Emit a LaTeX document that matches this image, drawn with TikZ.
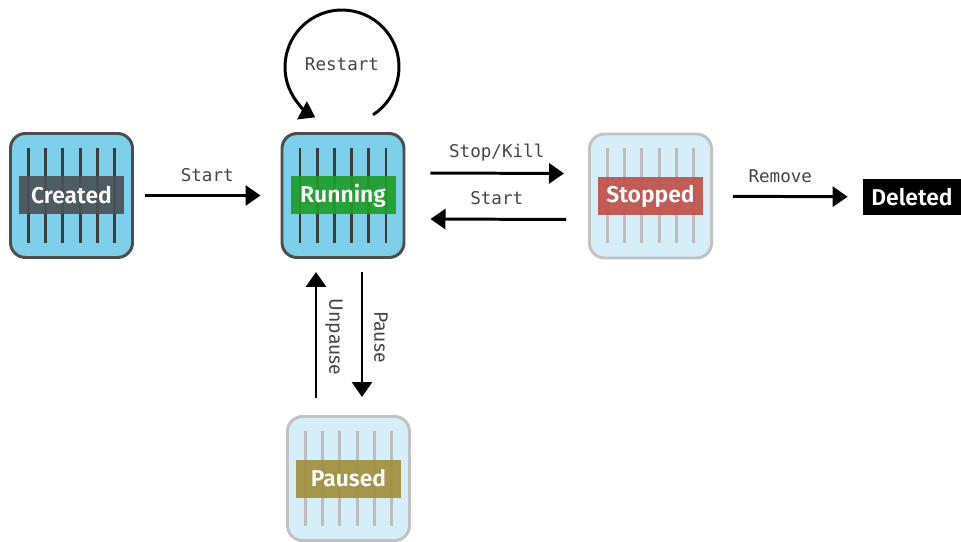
\documentclass[tikz,border=0pt]{standalone}
\usepackage{fontspec}
\setsansfont{Fira Sans}[BoldFont={* SemiBold}]
\setmonofont{DejaVu Sans Mono}
\usetikzlibrary{arrows.meta}

\definecolor{boxblue}{HTML}{7ECFEA}
\definecolor{boxedge}{HTML}{4D4D4D}
\definecolor{bardark}{HTML}{3C3C3C}
\definecolor{idleblue}{HTML}{D5EEF8}
\definecolor{idleedge}{HTML}{C2C2C2}
\definecolor{idlebar}{HTML}{BDBDBD}
\definecolor{tagslate}{HTML}{4A5258}
\definecolor{taggreen}{HTML}{1E9E28}
\definecolor{tagred}{HTML}{C1504A}
\definecolor{tagolive}{HTML}{A08F3C}
\definecolor{verbgray}{HTML}{454545}

\tikzset{
  box/.style={draw=boxedge, fill=boxblue, line width=1.7pt, rounded corners=0.3cm,
    minimum width=2.44cm, minimum height=2.48cm},
  idlebox/.style={box, draw=idleedge, fill=idleblue},
  bar/.style={line width=1.7pt, draw=#1},
  tag/.style={fill=#1, fill opacity=0.92, text opacity=1, text=white, inner sep=0pt,
    font=\sffamily\bfseries\fontsize{13}{15}\selectfont,
    minimum width=2.1cm, minimum height=0.76cm},
  move/.style={-{Triangle[length=0.3cm,width=0.4cm]}, line width=1.7pt},
  verb/.style={text=verbgray, font=\ttfamily\fontsize{10}{12}\selectfont},
  sideverb/.style={text=verbgray, font=\sffamily\fontsize{11}{13}\selectfont, rotate=-90}
}

\begin{document}
\begin{tikzpicture}
  \useasboundingbox (0,0) rectangle (19.22,10.82);

  % container states
  \node[box] (created) at (1.43,6.91) {};
  \node[box] (running) at (6.86,6.91) {};
  \node[idlebox] (stopped) at (13.01,6.90) {};
  \node[idlebox] (paused) at (6.97,1.25) {};

  % the bars of each container
  \foreach \c/\col in {created/bardark, running/bardark, stopped/idlebar, paused/idlebar}
    \foreach \x in {-0.86,-0.516,-0.172,0.172,0.516,0.86}
      \draw[bar=\col] ([shift={(\x,-0.95)}]\c.center) -- ([shift={(\x,0.95)}]\c.center);

  \node[tag=tagslate] (createdtag) at (created) {Created};
  \node[tag=taggreen] (runningtag) at (running) {Running};
  \node[tag=tagred] (stoppedtag) at (stopped) {Stopped};
  \node[tag=tagolive] (pausedtag) at (paused) {Paused};
  \node[tag=black, fill opacity=1, minimum width=1.96cm, minimum height=0.72cm] (deleted) at (18.24,6.88) {Deleted};

  % transitions
  \draw[move, shorten <=0.22cm, shorten >=0.4cm] (created) -- node[verb, yshift=0.4cm] {Start} (running);
  \draw[move, shorten <=0.5cm, shorten >=0.48cm] ([yshift=0.45cm]running.east) -- node[verb, yshift=0.42cm] {Stop/Kill} ([yshift=0.45cm]stopped.west);
  \draw[move, shorten <=0.44cm, shorten >=0.5cm] ([yshift=-0.47cm]stopped.west) -- node[verb, yshift=0.42cm] {Start} ([yshift=-0.47cm]running.east);
  \draw[move, shorten <=0.4cm, shorten >=0.3cm] (stopped) -- node[verb, yshift=0.4cm, xshift=-0.15cm] {Remove} (deleted);
  \draw[move, shorten <=0.34cm, shorten >=0.26cm] ([xshift=-0.54cm]running.south |- paused.north) -- node[sideverb, yshift=0.36cm] {Unpause} ([xshift=-0.54cm]running.south);
  \draw[move, shorten <=0.26cm, shorten >=0.36cm] ([xshift=0.38cm]running.south) -- node[sideverb, yshift=0.38cm] {Pause} ([xshift=0.38cm]running.south |- paused.north);

  % restart loop above running
  \coordinate (loop) at ([shift={(-0.02,2.57)}]running.center);
  \draw[move] ([shift={(-57:1.14)}]loop) arc[start angle=-57, end angle=242, radius=1.14cm];
  \node[verb] (restart) at ([yshift=0.05cm]loop) {Restart};
\end{tikzpicture}
\end{document}
